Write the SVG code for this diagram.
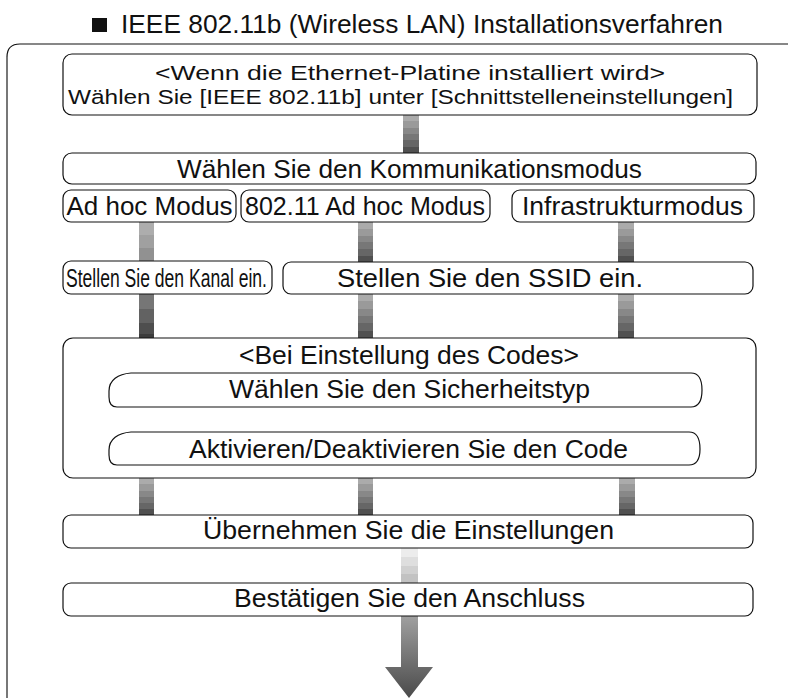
<svg xmlns="http://www.w3.org/2000/svg" width="788" height="698" viewBox="0 0 788 698">
<style>
.box{fill:#fff;stroke:#111;stroke-width:1.2}
.t{font-family:"Liberation Sans",Arial,sans-serif;font-size:26px;fill:#111}
.s{font-size:20.5px}
.c{text-anchor:middle}
</style>
<defs>
<linearGradient id="gDark" x1="0" y1="0" x2="0" y2="1">
<stop offset="0" stop-color="#ababab"/><stop offset="0.17" stop-color="#ababab"/>
<stop offset="0.17" stop-color="#9a9a9a"/><stop offset="0.34" stop-color="#9a9a9a"/>
<stop offset="0.34" stop-color="#888"/><stop offset="0.5" stop-color="#888"/>
<stop offset="0.5" stop-color="#777"/><stop offset="0.67" stop-color="#777"/>
<stop offset="0.67" stop-color="#666"/><stop offset="0.84" stop-color="#666"/>
<stop offset="0.84" stop-color="#505050"/><stop offset="1" stop-color="#505050"/>
</linearGradient>
<linearGradient id="gLT" x1="0" y1="0" x2="0" y2="1">
<stop offset="0" stop-color="#adadad"/><stop offset="0.33" stop-color="#adadad"/>
<stop offset="0.33" stop-color="#a0a0a0"/><stop offset="0.66" stop-color="#a0a0a0"/>
<stop offset="0.66" stop-color="#919191"/><stop offset="1" stop-color="#919191"/>
</linearGradient>
<linearGradient id="gLB" x1="0" y1="0" x2="0" y2="1">
<stop offset="0" stop-color="#767676"/><stop offset="0.33" stop-color="#767676"/>
<stop offset="0.33" stop-color="#626262"/><stop offset="0.66" stop-color="#626262"/>
<stop offset="0.66" stop-color="#4e4e4e"/><stop offset="0.9" stop-color="#4e4e4e"/>
<stop offset="0.9" stop-color="#3c3c3c"/><stop offset="1" stop-color="#3c3c3c"/>
</linearGradient>
<linearGradient id="gLight" x1="0" y1="0" x2="0" y2="1">
<stop offset="0" stop-color="#ececec"/><stop offset="0.25" stop-color="#ececec"/>
<stop offset="0.25" stop-color="#dedede"/><stop offset="0.5" stop-color="#dedede"/>
<stop offset="0.5" stop-color="#d0d0d0"/><stop offset="0.75" stop-color="#d0d0d0"/>
<stop offset="0.75" stop-color="#c2c2c2"/><stop offset="1" stop-color="#c2c2c2"/>
</linearGradient>
<linearGradient id="gArrow" gradientUnits="userSpaceOnUse" x1="0" y1="616" x2="0" y2="698">
<stop offset="0" stop-color="#a0a0a0"/><stop offset="1" stop-color="#4a4a4a"/>
</linearGradient>
</defs>

<g id="title">
<rect x="92" y="18" width="15" height="14" fill="#111"/>
<text class="t" x="121" y="33" textLength="602" lengthAdjust="spacingAndGlyphs">IEEE 802.11b (Wireless LAN) Installationsverfahren</text>
</g>

<g id="frame" fill="none">
<path d="M7 57 Q7 44 20 44 H788" stroke="#111" stroke-width="1.2"/>
<path d="M7 57 V698" stroke="#777" stroke-width="2"/>
</g>

<g id="connectors">
<rect x="403" y="115" width="16" height="38" fill="url(#gDark)"/>
<rect x="139" y="222" width="15" height="39" fill="url(#gLT)"/>
<rect x="139" y="294" width="15" height="44" fill="url(#gLB)"/>
<rect x="358" y="222" width="15" height="40" fill="url(#gDark)"/>
<rect x="358" y="294" width="15" height="44" fill="url(#gDark)"/>
<rect x="618" y="222" width="16" height="40" fill="url(#gDark)"/>
<rect x="618" y="294" width="16" height="44" fill="url(#gDark)"/>
<rect x="403" y="407" width="15" height="25" fill="url(#gDark)"/>
<rect x="139" y="478" width="15" height="37" fill="url(#gDark)"/>
<rect x="358" y="478" width="15" height="37" fill="url(#gDark)"/>
<rect x="619" y="478" width="16" height="37" fill="url(#gDark)"/>
<rect x="401" y="548" width="17" height="35" fill="url(#gLight)"/>
<path d="M401 616 H418 V667 H433 L409 698 L385 667 H401 Z" fill="url(#gArrow)"/>
</g>

<g id="n-start">
<rect class="box" x="63" y="54" width="694" height="61" rx="9"/>
<text class="t s" x="155" y="80" textLength="510" lengthAdjust="spacingAndGlyphs">&lt;Wenn die Ethernet-Platine installiert wird&gt;</text>
<text class="t s" x="68" y="104" textLength="665" lengthAdjust="spacingAndGlyphs">Wählen Sie [IEEE 802.11b] unter [Schnittstelleneinstellungen]</text>
</g>

<g id="n-mode">
<rect class="box" x="63" y="153" width="693" height="31" rx="9"/>
<text class="t" x="177" y="178" textLength="465" lengthAdjust="spacingAndGlyphs">Wählen Sie den Kommunikationsmodus</text>
</g>

<g id="n-adhoc">
<rect class="box" x="63" y="190" width="173" height="32" rx="8"/>
<text class="t c" x="149.5" y="215">Ad hoc Modus</text>
</g>

<g id="n-80211">
<rect class="box" x="241" y="190" width="249" height="32" rx="8"/>
<text class="t" x="245" y="215" textLength="240" lengthAdjust="spacingAndGlyphs">802.11 Ad hoc Modus</text>
</g>

<g id="n-infra">
<rect class="box" x="512" y="190" width="242" height="32" rx="8"/>
<text class="t" x="522" y="215" textLength="221" lengthAdjust="spacingAndGlyphs">Infrastrukturmodus</text>
</g>

<g id="n-kanal">
<rect class="box" x="63" y="261" width="209" height="33" rx="8"/>
<text class="t" x="66" y="287" textLength="201" lengthAdjust="spacingAndGlyphs">Stellen Sie den Kanal ein.</text>
</g>

<g id="n-ssid">
<rect class="box" x="283" y="262" width="470" height="32" rx="8"/>
<text class="t" x="337" y="287" textLength="306" lengthAdjust="spacingAndGlyphs">Stellen Sie den SSID ein.</text>
</g>

<g id="n-code">
<rect class="box" x="63" y="338" width="693" height="140" rx="10"/>
<text class="t" x="239" y="364" textLength="340" lengthAdjust="spacingAndGlyphs">&lt;Bei Einstellung des Codes&gt;</text>
</g>

<g id="n-sectype">
<path class="box" d="M131 373 H691 C699 373 702 380 702 390 C702 400 699 407 691 407 H117 C111 407 109 403 109 397 V391 C109 380 118 374 131 373 Z"/>
<text class="t" x="229" y="398" textLength="361" lengthAdjust="spacingAndGlyphs">Wählen Sie den Sicherheitstyp</text>
</g>

<g id="n-activate">
<path class="box" d="M131 432 H689 C697 432 700 439 700 449 C700 459 697 465 689 465 H117 C111 465 109 461 109 455 V450 C109 439 118 433 131 432 Z"/>
<text class="t" x="189" y="458" textLength="439" lengthAdjust="spacingAndGlyphs">Aktivieren/Deaktivieren Sie den Code</text>
</g>

<g id="n-apply">
<rect class="box" x="63" y="515" width="690" height="33" rx="8"/>
<text class="t" x="203" y="539" textLength="411" lengthAdjust="spacingAndGlyphs">Übernehmen Sie die Einstellungen</text>
</g>

<g id="n-confirm">
<rect class="box" x="63" y="583" width="690" height="33" rx="8"/>
<text class="t" x="234" y="607" textLength="351" lengthAdjust="spacingAndGlyphs">Bestätigen Sie den Anschluss</text>
</g>
</svg>
